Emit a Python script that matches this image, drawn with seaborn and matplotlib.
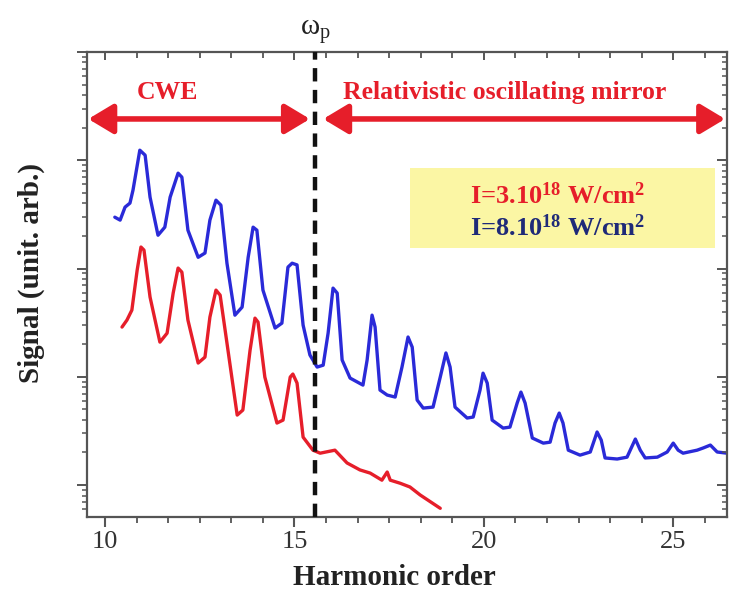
import matplotlib
matplotlib.use("Agg")
import matplotlib.pyplot as plt
import numpy as np
import pandas as pd
import seaborn as sns
from matplotlib.ticker import FixedLocator, MultipleLocator, LogLocator, NullFormatter
from matplotlib.patches import Rectangle

# ---------------- data ----------------
blue_h = [10.26, 10.40, 10.53, 10.66, 10.74, 10.92, 11.06, 11.19, 11.40, 11.58, 11.72, 11.93,
          12.03, 12.19, 12.46, 12.64, 12.77, 12.93, 13.06, 13.22, 13.43, 13.62, 13.78, 13.91,
          14.01, 14.17, 14.49, 14.67, 14.83, 14.94, 15.07, 15.23, 15.41, 15.60, 15.76, 15.89,
          16.02, 16.13, 16.26, 16.47, 16.81, 16.92, 17.05, 17.13, 17.26, 17.45, 17.66, 17.84,
          18.00, 18.11, 18.24, 18.40, 18.66, 18.85, 19.00, 19.11, 19.24, 19.56, 19.72, 19.90,
          19.98, 20.09, 20.22, 20.51, 20.69, 20.88, 20.98, 21.09, 21.28, 21.57, 21.75, 21.88,
          21.99, 22.09, 22.23, 22.54, 22.81, 22.99, 23.10, 23.20, 23.52, 23.78, 24.00, 24.13,
          24.26, 24.58, 24.84, 25.00, 25.13, 25.26, 25.63, 25.79, 25.98, 26.16, 26.42]
blue_signal = [298, 280, 369, 402, 530, 1239, 1114, 456, 203, 241, 456, 760,
               698, 226, 127, 139, 280, 428, 385, 112, 37.1, 44.0, 127, 241,
               226, 63.2, 28.2, 31.3, 103, 112, 108, 30.0, 15.9, 12.3, 12.8, 25.3,
               65.9, 59.3, 14.3, 9.73, 8.38, 14.3, 37.1, 28.8, 7.54, 6.78, 6.50, 12.3,
               23.3, 18.8, 6.10, 5.14, 5.25, 9.94, 16.6, 12.3, 5.25, 4.16, 4.25, 7.54,
               10.8, 8.75, 3.98, 3.36, 3.43, 5.72, 7.22, 5.72, 2.72, 2.44, 2.49, 3.74,
               4.62, 3.74, 2.10, 1.89, 2.02, 3.09, 2.60, 1.78, 1.74, 1.81, 2.66, 2.10,
               1.78, 1.81, 2.02, 2.44, 2.10, 1.97, 2.10, 2.20, 2.34, 2.02, 1.97]

red_h = [10.45, 10.58, 10.71, 10.85, 10.95, 11.03, 11.19, 11.45, 11.64, 11.80, 11.93, 12.03,
         12.19, 12.46, 12.64, 12.77, 12.93, 13.04, 13.22, 13.49, 13.64, 13.83, 13.96, 14.04,
         14.22, 14.54, 14.70, 14.89, 14.96, 15.07, 15.23, 15.49, 15.68, 16.07, 16.39, 16.73,
         17.00, 17.31, 17.45, 17.53, 17.79, 18.05, 18.32, 18.85]
red_signal = [28.8, 33.4, 41.3, 96.7, 158, 148, 54.5, 20.9, 25.3, 59.3, 101, 92.6,
              33.4, 13.4, 15.2, 35.6, 63.2, 56.8, 20.5, 4.43, 4.93, 17.6, 34.8, 32.0,
              9.94, 3.74, 3.98, 9.94, 10.6, 8.75, 2.77, 2.10, 1.97, 2.10, 1.60, 1.38,
              1.29, 1.11, 1.32, 1.11, 1.04, 0.96, 0.81, 0.61]

x_major_ticks = [10, 15, 20, 25]
omega_p = 15.545
legend_lines = [r"I=3.10$^{\mathbf{18}}$ W/cm$^{\mathbf{2}}$",
                r"I=8.10$^{\mathbf{18}}$ W/cm$^{\mathbf{2}}$"]
region_labels = ["CWE", "Relativistic oscillating mirror"]

# ---------------- style ----------------
sns.set_style("ticks")
plt.rcParams["font.family"] = ["Liberation Serif", "DejaVu Serif"]
plt.rcParams["mathtext.fontset"] = "custom"
plt.rcParams["mathtext.rm"] = "Liberation Serif"
plt.rcParams["mathtext.bf"] = "Liberation Serif:bold"
plt.rcParams["mathtext.it"] = "Liberation Serif:italic"

RED = "#e61e2a"
BLUE = "#2a2ad8"
NAVY = "#1f2a78"
SPINE = "#555555"

fig = plt.figure(figsize=(7.29, 5.97), dpi=100)
ax = fig.add_axes([0.1193, 0.134, 0.878, 0.7789])

df_blue = pd.DataFrame({"h": blue_h, "s": blue_signal})
df_red = pd.DataFrame({"h": red_h, "s": red_signal})
sns.lineplot(data=df_blue, x="h", y="s", ax=ax, color=BLUE, lw=2.4,
             sort=False, estimator=None)
sns.lineplot(data=df_red, x="h", y="s", ax=ax, color=RED, lw=2.4,
             sort=False, estimator=None)

ax.set_yscale("log")
ylim = (10 ** -0.295, 1e4)
xlim = (9.525, 26.42)
ax.set_ylim(*ylim)
ax.set_xlim(*xlim)

# omega_p dashed line
ax.axvline(omega_p, color="#111111", lw=3.2, linestyle=(0, (3.0, 1.9)), zorder=3)
trans = ax.get_xaxis_transform()
ax.text(omega_p, 1.012, r"$\mathrm{\omega}_\mathrm{p}$", transform=trans,
        ha="center", va="bottom", fontsize=21, color="#222222")

# region arrows and labels
arrow_kw = dict(arrowstyle="<|-|>,head_length=0.75,head_width=0.45", color=RED,
                lw=4, shrinkA=0, shrinkB=0, mutation_scale=20)
ax.annotate("", xy=(9.56, 0.856), xytext=(15.41, 0.856), xycoords=trans,
            textcoords=trans, arrowprops=arrow_kw)
ax.annotate("", xy=(15.76, 0.856), xytext=(26.37, 0.856), xycoords=trans,
            textcoords=trans, arrowprops=arrow_kw)
ax.text(11.64, 0.912, region_labels[0], transform=trans, ha="center", va="center",
        fontsize=18.5, fontweight="bold", color=RED)
ax.text(20.54, 0.912, region_labels[1], transform=trans, ha="center", va="center",
        fontsize=18.5, fontweight="bold", color=RED)

# legend box
ax.add_patch(Rectangle((0.505, 0.578), 0.476, 0.173, transform=ax.transAxes,
                       facecolor="#fbf6a4", edgecolor="none", zorder=1))
ax.text(0.736, 0.692, legend_lines[0], transform=ax.transAxes, ha="center",
        va="center", fontsize=19, fontweight="bold", color=RED, zorder=2)
ax.text(0.736, 0.622, legend_lines[1], transform=ax.transAxes, ha="center",
        va="center", fontsize=19, fontweight="bold", color=NAVY, zorder=2)

# axes labels
ax.set_xlabel("Harmonic order", fontsize=21, fontweight="bold", color="#222222")
ax.set_ylabel("Signal (unit. arb.)", fontsize=21, fontweight="bold", color="#222222")
ax.xaxis.set_label_coords(0.48, -0.10)
ax.yaxis.set_label_coords(-0.066, 0.525)

# ticks
ax.xaxis.set_major_locator(FixedLocator(x_major_ticks))
ax.xaxis.set_minor_locator(MultipleLocator(5 / 6))
ax.yaxis.set_major_locator(LogLocator(base=10, numticks=12))
ax.yaxis.set_minor_locator(LogLocator(base=10, subs=np.arange(2, 10), numticks=12))
ax.yaxis.set_major_formatter(NullFormatter())
ax.yaxis.set_minor_formatter(NullFormatter())
ax.tick_params(axis="x", which="major", direction="out", length=7, width=1.5,
               labelsize=19, pad=3, colors=SPINE, labelcolor="#333333")
ax.tick_params(axis="x", which="minor", direction="out", length=4, width=1.3, colors=SPINE)
ax.tick_params(axis="y", which="major", direction="out", length=7, width=1.4, colors=SPINE)
ax.tick_params(axis="y", which="minor", direction="out", length=3.5, width=1.1, colors=SPINE)

for s in ax.spines.values():
    s.set_visible(True)
    s.set_color(SPINE)
    s.set_linewidth(1.6)

# mirrored ticks (inward) on top and right
axt = ax.twiny()
axt.set_xlim(*xlim)
axt.xaxis.set_major_locator(FixedLocator(x_major_ticks))
axt.xaxis.set_minor_locator(MultipleLocator(5 / 6))
axt.tick_params(axis="x", which="major", direction="in", length=6, width=1.4,
                labeltop=False, colors=SPINE)
axt.tick_params(axis="x", which="minor", direction="in", length=4, width=1.3, colors=SPINE)
for s in axt.spines.values():
    s.set_visible(False)

axr = ax.twinx()
axr.set_yscale("log")
axr.set_ylim(*ylim)
axr.yaxis.set_major_locator(LogLocator(base=10, numticks=12))
axr.yaxis.set_minor_locator(LogLocator(base=10, subs=np.arange(2, 10), numticks=12))
axr.yaxis.set_major_formatter(NullFormatter())
axr.yaxis.set_minor_formatter(NullFormatter())
axr.tick_params(axis="y", which="major", direction="in", length=7, width=1.4, colors=SPINE)
axr.tick_params(axis="y", which="minor", direction="in", length=3.5, width=1.1, colors=SPINE)
for s in axr.spines.values():
    s.set_visible(False)

fig.savefig("out.png", dpi=100)
